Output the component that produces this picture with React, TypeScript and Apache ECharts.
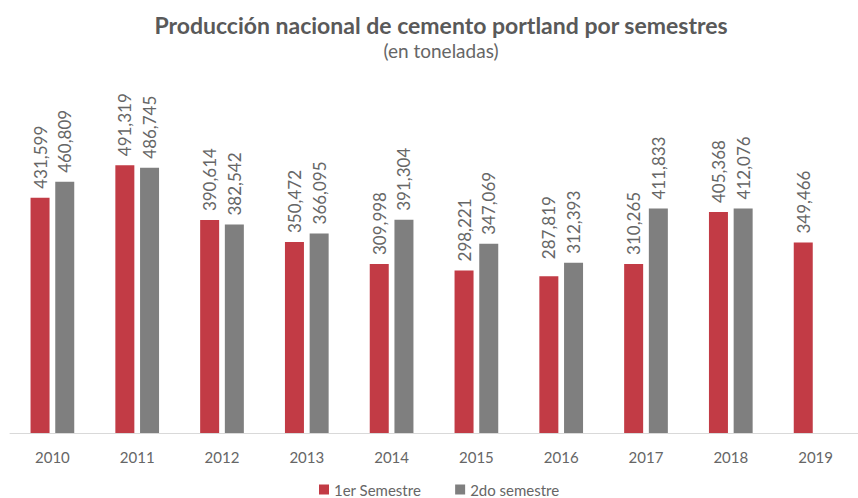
import React, { useEffect, useRef } from "react";
import * as echarts from "echarts";

const years = ["2010", "2011", "2012", "2013", "2014", "2015", "2016", "2017", "2018", "2019"];
const primerSemestre = [431599, 491319, 390614, 350472, 309998, 298221, 287819, 310265, 405368, 349466];
const segundoSemestre: (number | null)[] = [460809, 486745, 382542, 366095, 391304, 347069, 312393, 411833, 412076, null];
const seriesNames = ["1er Semestre", "2do semestre"];

const FONT = "Lato, 'Open Sans', sans-serif";
const TXT = "#595959";
const TXT2 = "#666666";

function fmt(v: number) {
  return v.toString().replace(/\B(?=(\d{3})+(?!\d))/g, ",");
}

export default function App() {
  const ref = useRef<HTMLDivElement>(null);
  useEffect(() => {
    if (!ref.current) return;
    const chart = echarts.init(ref.current, undefined, { renderer: "svg" });
    const label = {
      show: true,
      position: "top",
      rotate: 90,
      align: "left",
      verticalAlign: "middle",
      distance: 9,
      color: TXT2,
      fontFamily: FONT,
      fontSize: 17,
      formatter: (p: any) => fmt(p.value),
    };
    chart.setOption({
      animation: false,
      backgroundColor: "#ffffff",
      title: {
        text: "Producción nacional de cemento portland por semestres",
        subtext: "(en toneladas)",
        left: 436,
        textAlign: "center",
        top: 8,
        itemGap: 5,
        textStyle: { color: TXT, fontFamily: FONT, fontSize: 23, fontWeight: "bold" },
        subtextStyle: { color: TXT2, fontFamily: FONT, fontSize: 19 },
      },
      legend: {
        data: seriesNames,
        left: 314,
        top: 477,
        icon: "rect",
        itemWidth: 10,
        itemHeight: 10,
        itemGap: 34,
        textStyle: { color: TXT2, fontFamily: FONT, fontSize: 15 },
      },
      grid: { left: 10, right: -10, top: 106, bottom: 65 },
      xAxis: {
        type: "category",
        data: years,
        axisLine: { lineStyle: { color: "#D9D9D9", width: 1 } },
        axisTick: { show: false },
        axisLabel: { color: TXT2, fontFamily: FONT, fontSize: 15, margin: 16 },
      },
      yAxis: {
        type: "value",
        min: 0,
        max: 600000,
        show: false,
        splitLine: { show: false },
      },
      series: [
        {
          name: seriesNames[0],
          type: "bar",
          data: primerSemestre.map((v, i) =>
            i === 6 ? { value: v, label: { distance: 17 } } : v
          ),
          barWidth: 19,
          barGap: "30%",
          itemStyle: { color: "#C23B45" },
          label,
        },
        {
          name: seriesNames[1],
          type: "bar",
          data: segundoSemestre,
          barWidth: 19,
          itemStyle: { color: "#7F7F7F" },
          label,
        },
      ],
    });
    return () => chart.dispose();
  }, []);
  return <div ref={ref} style={{ width: 858, height: 498, position: "absolute", left: 0, top: 0 }} />;
}
